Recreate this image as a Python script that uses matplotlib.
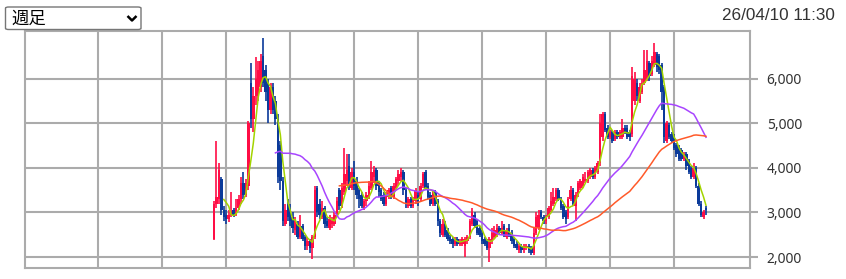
import matplotlib
matplotlib.use("Agg")
import matplotlib.pyplot as plt
import numpy as np
from matplotlib.patches import FancyBboxPatch
from matplotlib.lines import Line2D

# ---- data (weekly candles) ----
opens = [2400,3200,3300,3750,3050,2950,2850,2950,3050,2950,3100,3300,3650,3400,3600,5900,5100,5600,5600,5800,
         6500,6200,5900,5300,5800,5500,5100,4500,3700,2750,3200,3100,2900,2600,2750,2450,2700,2450,2250,2350,
         2200,2450,3550,3200,2900,3100,2800,2650,2750,2750,2950,3500,3150,3450,3700,4050,3550,3900,3700,3500,
         3400,3100,3250,3350,3550,3800,3950,3650,3500,3400,3200,3350,3550,3350,3550,3700,3800,3900,3500,3150,
         3300,3150,3250,3400,3300,3600,3900,3600,3400,3200,3450,3250,2800,2500,2750,2600,2450,2400,2300,2400,
         2300,2300,2250,2350,2450,2750,2950,2800,2650,2550,2400,2350,2200,2350,2450,2500,2650,2550,2700,2450,
         2650,2550,2400,2300,2150,2250,2150,2200,2250,2200,2100,2550,2650,3000,2900,2800,2900,3050,3200,3300,
         3500,3300,3150,3000,2900,3300,3500,3150,3400,3550,3600,3700,3700,3800,3950,3800,3900,4100,4700,5200,
         4900,4700,4800,4650,4800,4700,4700,4900,4900,4800,4750,5500,5900,5500,5700,5900,6000,6350,6100,6300,
         6550,6500,6300,5800,4600,4950,4750,4700,4500,4450,4400,4200,4300,4150,4000,3800,4000,3600,3200,2900,
         3100]
highs = [3250,4600,4100,3800,3150,3050,3050,3450,3100,3300,3400,3800,3900,3750,5050,6350,5800,6480,6400,6550,
         6900,6300,6000,5900,5900,5600,5200,4600,3800,3200,3300,3200,3000,2900,2800,2950,2750,2500,2450,2400,
         2500,3600,3600,3300,3250,3150,2900,2950,2900,3000,3350,3550,3650,4450,4300,4300,4000,4150,3800,3550,
         3450,3300,3450,3700,4150,4050,4000,3700,3550,3450,3450,3550,3600,3650,3800,3950,4000,3950,3550,3350,
         3350,3350,3550,3450,3650,3900,3950,3650,3450,3500,3500,3300,2850,2850,2800,2650,2500,2450,2450,2450,
         2400,2450,2450,2500,2850,3100,3000,2850,2700,2600,2450,2400,2450,2650,2700,2750,2700,2800,2750,2650,
         2750,2600,2450,2350,2300,2300,2300,2300,2300,2250,2650,3000,3050,3050,2950,2950,3150,3450,3550,3550,
         3550,3350,3200,3050,3350,3600,3550,3450,3700,3750,3850,3900,3950,4000,4000,4050,4150,5200,5250,5250,
         4950,4850,4850,4850,4850,4850,5100,4950,4950,4850,6250,6150,6000,5900,6000,6650,6650,6400,6500,6800,
         6600,6550,6350,5850,5050,5000,4800,4750,4550,4500,4450,4350,4350,4200,4050,4100,4050,3650,3250,3050,
         3150]
lows = [2380,3100,3200,2950,2800,2750,2780,2900,2900,2920,3050,3200,3300,3350,3500,4900,4800,5400,5500,5700,
        5800,5500,5000,5200,5200,4950,3650,3500,2700,2700,2800,2700,2550,2500,2400,2400,2350,2150,2150,2100,
        1950,2400,2900,2850,2850,2650,2650,2600,2650,2700,2900,3050,3100,3400,3600,3500,3500,3500,3300,3100,
        3100,3050,3150,3300,3500,3650,3500,3350,3250,3150,3150,3300,3300,3300,3500,3600,3700,3400,3100,3100,
        3100,3100,3200,3150,3250,3550,3500,3300,3150,3150,3150,2700,2450,2450,2450,2350,2300,2200,2250,2250,
        2250,2250,2000,2300,2400,2700,2650,2500,2450,2300,2250,2150,1880,2300,2400,2450,2500,2500,2450,2400,
        2450,2300,2200,2150,2100,2100,2100,2150,2100,2050,2050,2500,2600,2850,2750,2750,2850,3000,3150,3250,
        3250,3050,2850,2750,2850,3250,3150,2800,3350,3500,3550,3650,3650,3750,3750,3750,3850,4050,4600,4800,
        4650,4650,4550,4600,4650,4650,4650,4750,4650,4600,4700,5400,5500,5450,5650,5850,5950,5950,6050,6250,
        6150,6100,5300,4550,4550,4650,4550,4400,4250,4150,4150,4150,3950,3850,3750,3750,3550,3150,2900,2850,
        2950]
closes = [3200,3350,3950,3050,2900,2850,2950,3000,2950,3100,3300,3650,3400,3650,5000,5100,5600,6000,6200,6400,
          5900,5700,5300,5800,5300,5100,3800,3700,2800,3050,2900,2800,2650,2800,2450,2700,2400,2250,2350,2200,
          2450,3500,3000,2950,3100,2750,2700,2850,2800,2950,3250,3150,3550,3850,3950,3600,3900,3600,3400,3300,
          3150,3250,3400,3600,3900,3950,3600,3450,3300,3200,3400,3500,3350,3600,3750,3850,3900,3500,3200,3300,
          3150,3300,3500,3250,3600,3850,3550,3350,3200,3450,3200,2800,2550,2750,2500,2400,2350,2300,2400,2300,
          2350,2400,2400,2450,2800,3000,2700,2550,2500,2350,2300,2200,2400,2550,2600,2650,2550,2650,2500,2600,
          2500,2350,2250,2200,2250,2150,2250,2250,2150,2100,2550,2900,2950,2900,2800,2900,3100,3250,3350,3500,
          3300,3100,2900,2850,3300,3500,3200,3400,3650,3700,3800,3750,3900,3950,3800,4000,4100,5000,5200,4850,
          4700,4800,4600,4800,4700,4800,4900,4800,4700,4700,6050,6000,5600,5800,5900,6200,6400,6050,6400,6600,
          6250,6200,5700,4700,5000,4700,4600,4450,4300,4200,4200,4300,4050,3900,3800,4000,3600,3200,2950,3000,
          3050]
ma_periods = [5, 26, 52]
y_ticks = [2000, 3000, 4000, 5000, 6000]
selector_label = "週足"
timestamp = "26/04/10 11:30"

# ---- style ----
UP = "#ff0d45"
DOWN = "#0b3a9a"
MA_COLORS = ["#a3d400", "#a845ff", "#ff5a2a"]
GRID = "#ababab"

W, H = 846, 279
fig = plt.figure(figsize=(W / 100, H / 100), dpi=100)
ax = fig.add_axes([25 / W, 1 - 268 / H, (750 - 25) / W, (268 - 31) / H])

o = np.array(opens, float)
h = np.array(highs, float)
l = np.array(lows, float)
c = np.array(closes, float)
x = np.arange(len(c))
up = c >= o

# gridlines (half-year) and horizontal price grid
vgrid = np.arange(-47.1, 200, 26.0)
for gx in vgrid:
    ax.axvline(gx, color=GRID, lw=1.5, zorder=0)
for gy in y_ticks:
    ax.axhline(gy, color=GRID, lw=1.5, zorder=0)

# candles
ax.vlines(x[up], l[up], h[up], color=UP, lw=1.2, zorder=2)
ax.vlines(x[~up], l[~up], h[~up], color=DOWN, lw=1.2, zorder=2)
bw = 1.0
ax.bar(x[up], np.maximum(c[up] - o[up], 15), bottom=o[up], width=bw, color=UP, lw=0, zorder=3)
ax.bar(x[~up], np.maximum(o[~up] - c[~up], 15), bottom=c[~up], width=bw, color=DOWN, lw=0, zorder=3)

# moving averages
for p, col in zip(ma_periods, MA_COLORS):
    ma = np.convolve(c, np.ones(p) / p, mode="valid")
    ax.plot(x[p - 1:], ma, color=col, lw=1.1, zorder=4)

ax.set_xlim(-76.8, 217.9)
ax.set_ylim(1755, 7065)
ax.set_xticks([])
ax.yaxis.tick_right()
ax.set_yticks(y_ticks)
ax.set_yticklabels([f"{v:,}" for v in y_ticks], fontfamily="Noto Sans", fontsize=10, color="#333333")
ax.tick_params(axis="y", length=6, width=1.5, color=GRID, pad=6)
for s in ax.spines.values():
    s.set_color(GRID)
    s.set_linewidth(1.5)

# selector box
box = FancyBboxPatch((5.5 / W, 1 - 29.5 / H), 135.5 / W, 22.5 / H,
                     boxstyle="round,pad=0,rounding_size=0.004", transform=fig.transFigure,
                     facecolor="white", edgecolor="#767676", lw=1.0)
fig.patches.append(box)
fig.text(11 / W, 1 - 19 / H, selector_label, fontfamily=["Noto Sans CJK JP", "DejaVu Sans"],
         fontsize=12.5, va="center", ha="left", color="black")
fig.lines.append(Line2D([127.5 / W, 132 / W, 136.5 / W], [1 - 16 / H, 1 - 20.5 / H, 1 - 16 / H],
                        transform=fig.transFigure, color="black", lw=1.8, solid_capstyle="butt"))

fig.text(835 / W, 1 - 16 / H, timestamp, fontfamily="Liberation Sans", fontsize=12.3,
         ha="right", va="center", color="#333333")

fig.savefig("out.png", dpi=100)
